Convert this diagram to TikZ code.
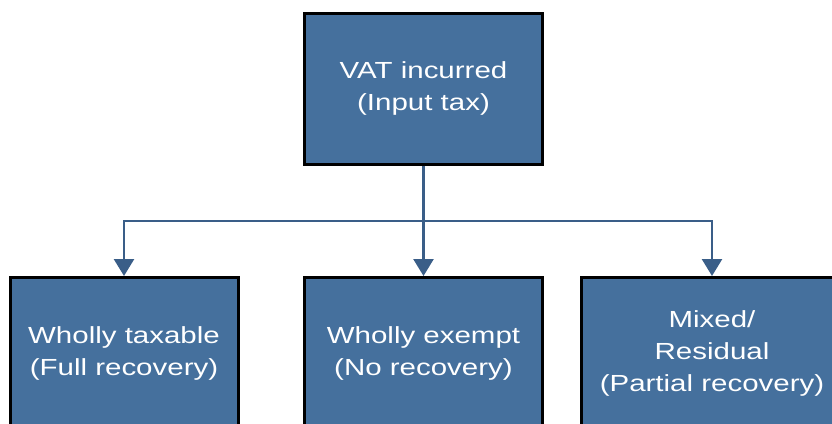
\documentclass[tikz,border=0pt]{standalone}
\usepackage{fontspec}
\setmainfont{Liberation Sans}[FakeStretch=1.265]
\usetikzlibrary{arrows.meta}
\definecolor{boxblue}{RGB}{69,112,157}
\definecolor{lineblue}{RGB}{58,94,136}

\begin{document}
\begin{tikzpicture}[x=1pt,y=-1pt]
        %
        % `vatbox' is used for every box here.
        % `flow' is used for the connectors (arrows).
        \tikzstyle{vatbox} = [draw=black,line width=3pt,fill=boxblue,text=white,align=center,inner sep=0pt,minimum height=151pt,font=\fontsize{23.3}{32}\selectfont]
        \tikzstyle{flow} = [draw=lineblue,line width=2.5pt,-{Triangle[width=20pt,length=17pt]}]
        %
        % Page
        \useasboundingbox (0,0) rectangle (832,423);
        \clip (0,0) rectangle (832,423);
        %
        % Top box
        \node[vatbox,minimum width=238pt] (incurred) at (423.5,88.5) {VAT incurred\\(Input tax)};
        %
        % Bottom row
        \node[vatbox,minimum width=228pt] (taxable) at (124,353) {Wholly taxable\\(Full recovery)};
        \node[vatbox,minimum width=238pt] (exempt) at (423.5,353) {Wholly exempt\\(No recovery)};
        \node[vatbox,minimum width=262pt] (mixed) at (712,353) {Mixed/\\Residual\\(Partial recovery)};
        %
        % Connectors
        \coordinate (split) at (423.5,221);
        \draw[flow,-] (incurred) -- (split);
        \draw[flow] (split) -| (taxable);
        \draw[flow] (split) -- (exempt);
        \draw[flow] (split) -| (mixed);
        %
\end{tikzpicture}
\end{document}
